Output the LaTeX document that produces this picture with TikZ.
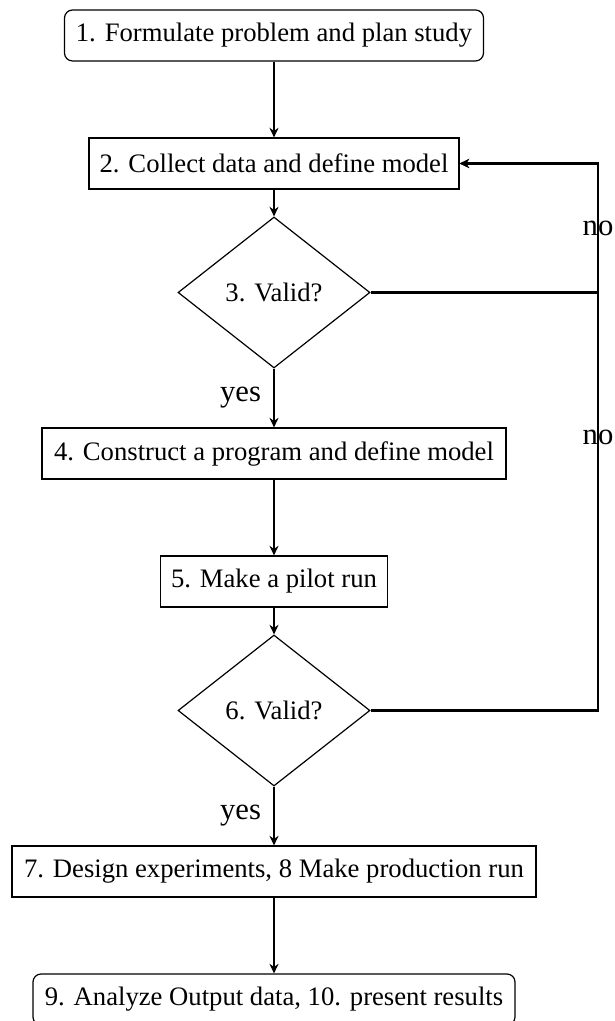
\documentclass[tikz,border=0pt]{standalone}
\usepackage{fontspec}
\setmainfont{Liberation Serif}
\usetikzlibrary{shapes.geometric,arrows.meta}
\newdimen\pxu
\pxu=0.375pt
\tikzset{
  box/.style={draw, line width=0.45pt, inner sep=0pt, minimum height=51\pxu, font=\fontsize{10pt}{12pt}\selectfont},
  roundbox/.style={box, rounded corners=3pt},
  decision/.style={draw, line width=0.45pt, diamond, aspect=1.27, inner sep=0pt, minimum width=192\pxu, minimum height=151\pxu, font=\fontsize{10pt}{12pt}\selectfont},
  conn/.style={line width=0.8pt, -{Stealth[length=3.6pt,width=3.4pt,inset=1.2pt]}},
  lbl/.style={font=\fontsize{11.5pt}{14pt}\selectfont, inner sep=0pt}
}
\begin{document}
\begin{tikzpicture}[x=\pxu, y=-\pxu]
\useasboundingbox (0,0) rectangle (614,1021);
\node[roundbox, minimum width=419\pxu] (n1) at (274,35.5) {1. Formulate problem and plan study};
\node[box, minimum width=370\pxu] (n2) at (274,163.5) {2. Collect data and define model};
\node[decision] (d3) at (274,292.5) {3. Valid?};
\node[box, minimum width=464\pxu] (n4) at (274,453.5) {4. Construct a program and define model};
\node[box, minimum width=227\pxu] (n5) at (274,581.5) {5. Make a pilot run};
\node[decision] (d6) at (274,710.5) {6. Valid?};
\node[box, minimum width=524\pxu] (n7) at (274,871.5) {7. Design experiments, 8 Make production run};
\node[roundbox, minimum width=482\pxu] (n9) at (274,999.5) {9. Analyze Output data, 10. present results};
\coordinate (xr) at (598,0);

\draw[conn] (n1) -- (n2);
\draw[conn] (n2) -- (d3);
\draw[conn] (d3) -- node[lbl, left=4.5pt] {yes} (n4);
\draw[conn] (n4) -- (n5);
\draw[conn] (n5) -- (d6);
\draw[conn] (d6) -- node[lbl, left=4.5pt] {yes} (n7);
\draw[conn] (n7) -- (n9);
\draw[conn] (d3.east) -- (d3.east -| xr) -- node[lbl] {no} (n2.east -| xr) -- (n2.east);
\draw[conn] (d6.east) -- (d6.east -| xr) -- node[lbl] {no} (n2.east -| xr) -- (n2.east);
\end{tikzpicture}
\end{document}
